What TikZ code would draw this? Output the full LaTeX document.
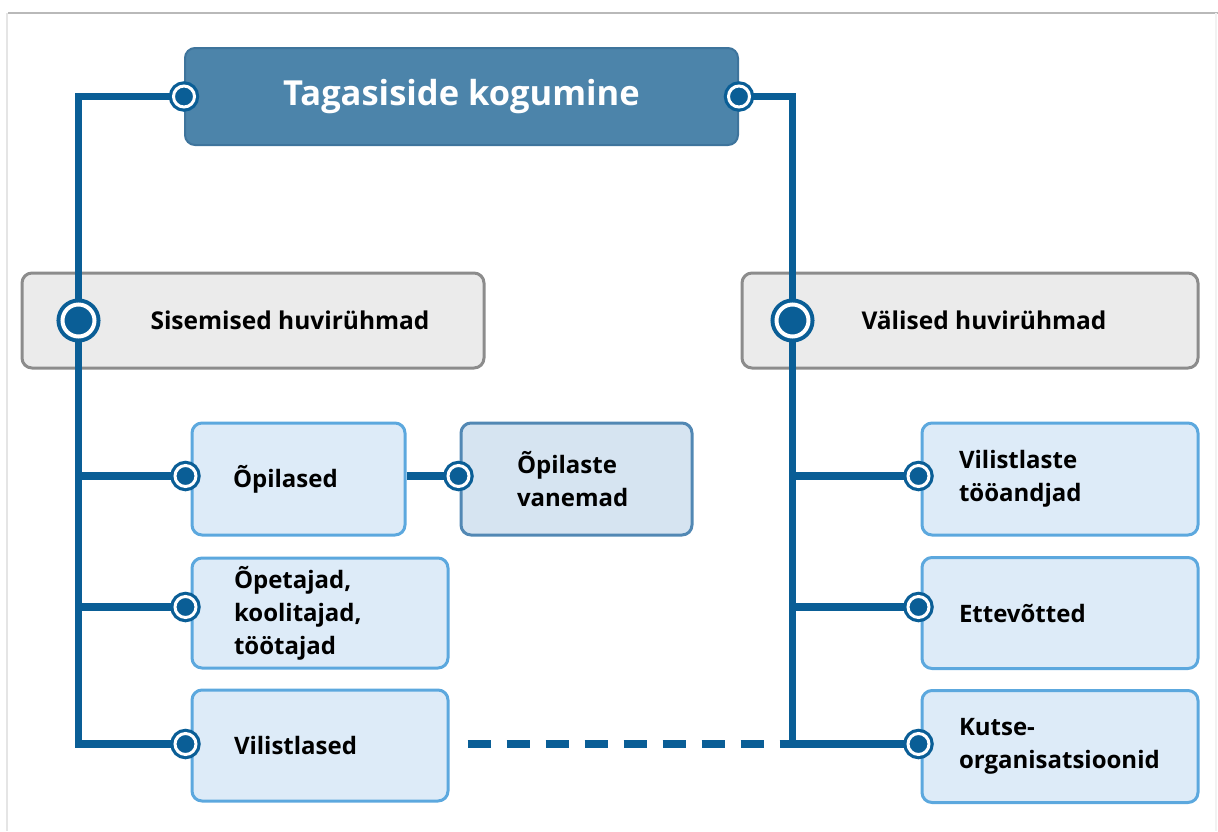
\documentclass[tikz,border=0pt]{standalone}
\usepackage{fontspec}
\setmainfont{Open Sans}
\definecolor{lineblue}{RGB}{10,94,150}
\definecolor{titlefill}{RGB}{76,132,170}
\definecolor{titledraw}{RGB}{62,116,156}
\definecolor{childfill}{RGB}{221,235,248}
\definecolor{childdraw}{RGB}{92,168,222}
\definecolor{parfill}{RGB}{214,228,241}
\definecolor{pardraw}{RGB}{82,136,180}
\definecolor{greyfill}{RGB}{235,235,235}
\definecolor{greydraw}{RGB}{140,140,140}
\begin{document}
\begin{tikzpicture}[x=1pt,y=-1pt,
  titlebox/.style={rectangle, rounded corners=10pt, fill=titlefill, draw=titledraw, line width=2pt,
    minimum width=553pt, minimum height=97pt, inner sep=0pt, text=white,
    font=\fontsize{34.5}{38}\selectfont\bfseries},
  groupbox/.style={rectangle, rounded corners=10pt, fill=greyfill, draw=greydraw, line width=3pt,
    minimum height=95pt, inner sep=0pt, font=\fontsize{24.5}{30}\selectfont\bfseries},
  childbox/.style={rectangle, rounded corners=10pt, fill=childfill, draw=childdraw, line width=3pt,
    minimum height=111pt, inner sep=0pt, align=left,
    font=\fontsize{24}{33}\selectfont\bfseries},
  parentbox/.style={childbox, fill=parfill, draw=pardraw},
  conn/.style={draw=lineblue, line width=7.5pt},
  dashconn/.style={draw=lineblue, line width=8pt, dash pattern=on 23pt off 16pt},
  port/.style={circle, draw=lineblue, fill=lineblue, double=white, double distance=3pt,
    line width=3.2pt, minimum size=21pt, inner sep=0pt},
  bigport/.style={port, double distance=4pt, line width=4pt, minimum size=32pt}
]
\useasboundingbox (0,0) rectangle (1218,831);
% frame
\draw[gray!55, line width=2pt] (8,13) -- (1218,13);
\draw[gray!20, line width=2pt] (7,13) -- (7,831);
\draw[gray!10, line width=1.5pt] (1216,13) -- (1216,831);

% boxes
\node[titlebox] (title) at (461.5,96.5) {Tagasiside kogumine};
\node[groupbox, minimum width=462pt] (sis) at (253,320.5) {\hspace*{74pt}Sisemised huvirühmad};
\node[groupbox, minimum width=456pt] (val) at (970,320.5) {\hspace*{28pt}Välised huvirühmad};

\node[childbox, minimum width=213pt, text width=131pt, minimum height=112pt] (op) at (298.5,479) {Õpilased};
\node[parentbox, minimum width=231pt, text width=119pt, minimum height=112pt] (va) at (576.5,479) {Õpilaste\\vanemad};
\node[childbox, minimum width=256pt, text width=172pt, minimum height=110pt] (ot) at (320,613) {Õpetajad,\\koolitajad,\\töötajad};
\node[childbox, minimum width=256pt, text width=172pt] (vl) at (320,745.5) {Vilistlased};

\node[childbox, minimum width=276pt, text width=202pt, minimum height=112pt] (vt) at (1060,479) {Vilistlaste\\tööandjad};
\node[childbox, minimum width=276pt, text width=202pt] (et) at (1060,613) {Ettevõtted};
\node[childbox, minimum width=276pt, text width=202pt, minimum height=112pt] (ku) at (1060,746.5) {Kutse-\\organisatsioonid};

% port positions
\coordinate (pT1) at (title.west);
\coordinate (pT2) at (title.east);
\coordinate (pS) at ([xshift=58pt]sis.west);
\coordinate (pV) at ([xshift=52pt]val.west);
\coordinate (pOp) at ([xshift=-5pt,yshift=3pt]op.west);
\coordinate (pVa) at ([xshift=-1pt,yshift=3pt]va.west);
\coordinate (pOt) at ([xshift=-5pt,yshift=6pt]ot.west);
\coordinate (pVl) at ([xshift=-5pt,yshift=1.5pt]vl.west);
\coordinate (pVt) at ([xshift=-2pt,yshift=3pt]vt.west);
\coordinate (pEt) at ([xshift=-2pt,yshift=6pt]et.west);
\coordinate (pKu) at ([xshift=-2pt,yshift=2.5pt]ku.west);
\coordinate (dS) at ([xshift=18pt]vl.east |- pVl);
\coordinate (dE) at (pV |- pVl);

% connectors
\draw[conn] (pT1) -| (pS) |- (pVl);
\draw[conn] (pT2) -| (pV) |- (pKu);
\draw[conn] (pS |- pOp) -- (pOp);
\draw[conn] (pS |- pOt) -- (pOt);
\draw[conn] (op.east |- pVa) -- (pVa);
\draw[conn] (pV |- pVt) -- (pVt);
\draw[conn] (pV |- pEt) -- (pEt);
\draw[dashconn] (dS) -- (dE);

% ports
\node[port] (cT1) at (pT1) {};
\node[port] (cT2) at (pT2) {};
\node[bigport] (cS) at (pS) {};
\node[bigport] (cV) at (pV) {};
\node[port] (cOp) at (pOp) {};
\node[port] (cVa) at (pVa) {};
\node[port] (cOt) at (pOt) {};
\node[port] (cVl) at (pVl) {};
\node[port] (cVt) at (pVt) {};
\node[port] (cEt) at (pEt) {};
\node[port] (cKu) at (pKu) {};
\end{tikzpicture}
\end{document}
